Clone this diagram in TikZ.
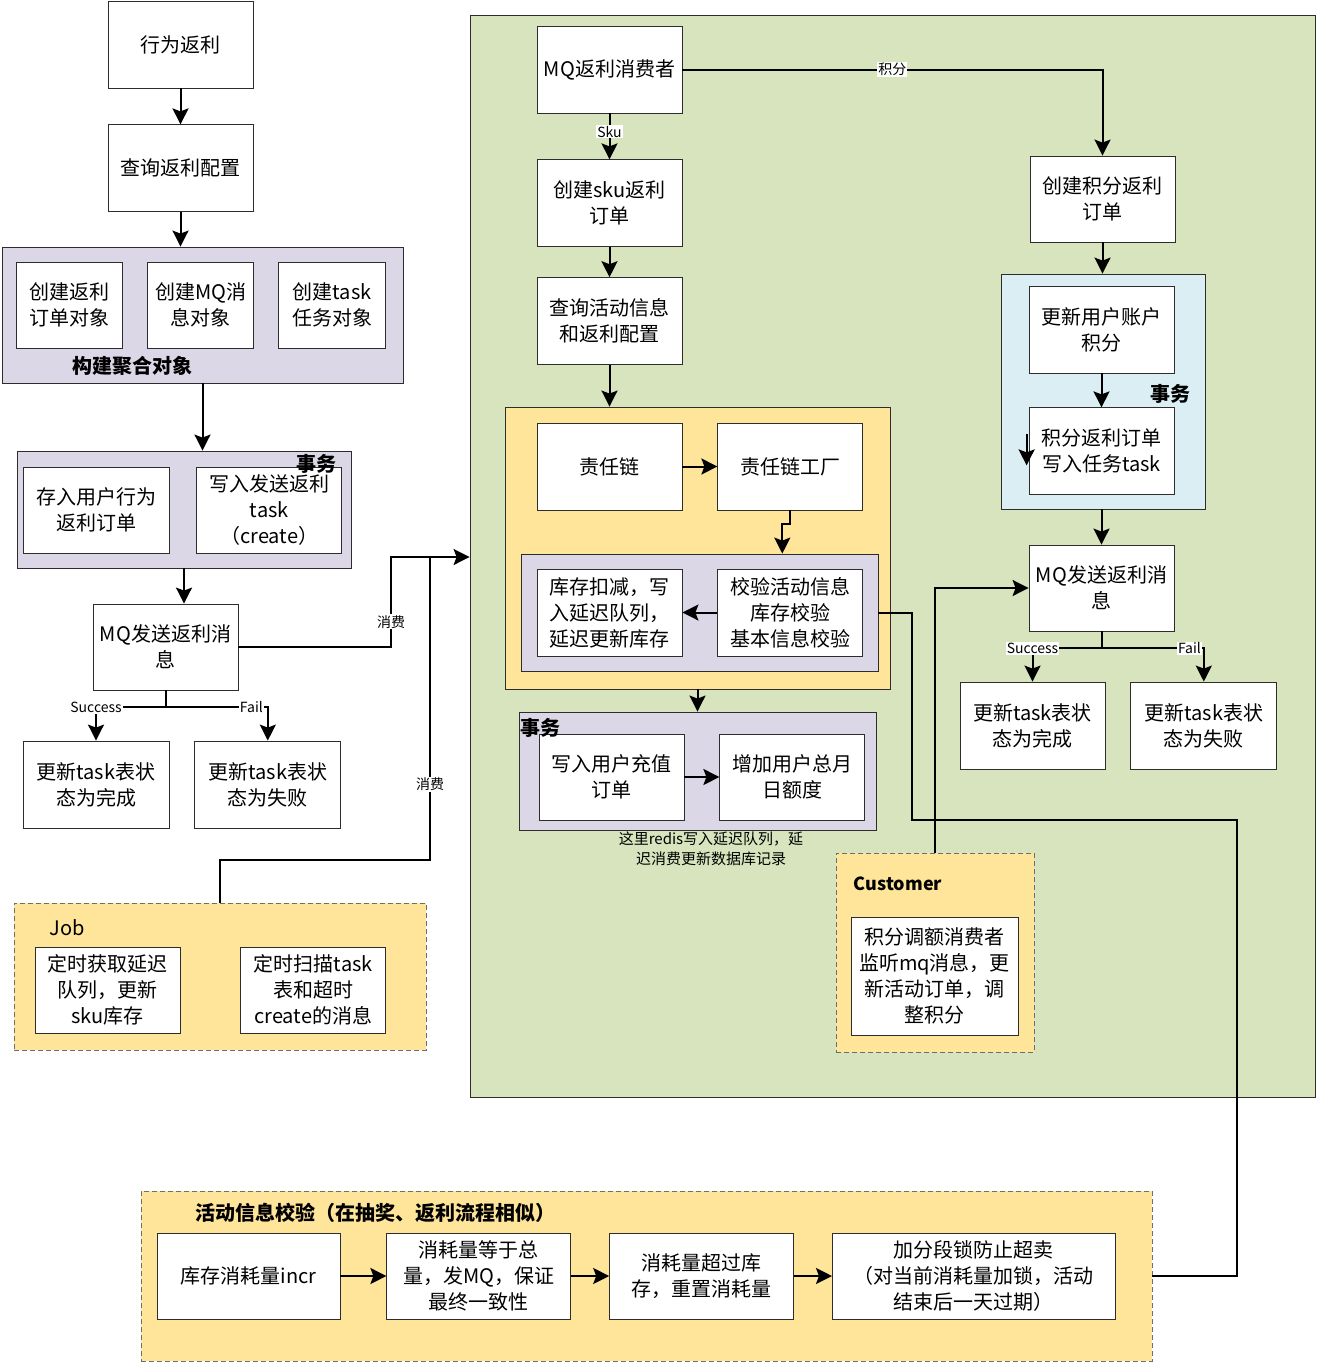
\documentclass[tikz,border=0pt]{standalone}
\usepackage{fontspec}
\setmainfont{Noto Sans CJK SC}
\usetikzlibrary{positioning,arrows.meta}

\definecolor{boxline}{RGB}{45,45,45}
\definecolor{dashline}{RGB}{110,110,110}
\definecolor{grpurple}{RGB}{220,215,230}
\definecolor{grgreen}{RGB}{215,228,190}
\definecolor{gryellow}{RGB}{255,229,153}
\definecolor{grblue}{RGB}{218,238,243}

\newcommand\bxfont{\fontsize{20}{26}\selectfont}
\newcommand\tgfont{\fontsize{14}{16}\selectfont}
\newcommand\hdfont{\fontsize{20}{24}\selectfont\bfseries}

\begin{document}
\begin{tikzpicture}[x=1pt,y=-1pt,
	box/.style={draw=boxline, fill=white, line width=0.8pt, align=center, inner sep=2pt,
		font=\bxfont, minimum width=145pt, minimum height=87pt},
	grp/.style={draw=boxline, line width=0.8pt, inner sep=0pt},
	dashgrp/.style={draw=dashline, line width=0.8pt, dash pattern=on 5pt off 3pt,
		fill=gryellow, inner sep=0pt},
	flow/.style={line width=2pt, -{Stealth[length=16pt,width=16pt,inset=3pt]}},
	link/.style={line width=2pt},
	tag/.style={fill=white, inner sep=1pt, font=\tgfont},
	head/.style={font=\hdfont, inner sep=0pt},
	]

	\useasboundingbox (0,0) rectangle (1317,1363);

	% groups
	\node[grp, fill=grgreen, minimum width=845pt, minimum height=1082pt] (green) at (892.5,556) {};
	\node[grp, fill=grpurple, minimum width=401pt, minimum height=136pt] (agg) at (202.5,315) {};
	\node[grp, fill=grpurple, minimum width=334pt, minimum height=117pt] (tx1) at (184,509.5) {};
	\node[dashgrp, minimum width=412pt, minimum height=147pt] (job) at (220,976.5) {};
	\node[grp, fill=gryellow, minimum width=385pt, minimum height=282pt] (chain) at (697.5,548) {};
	\node[grp, fill=grpurple, minimum width=357pt, minimum height=117pt] (chk) at (699.5,612.5) {};
	\node[grp, fill=grpurple, minimum width=357pt, minimum height=118pt] (tx2) at (697.5,771) {};
	\node[grp, fill=grblue, minimum width=204pt, minimum height=235pt] (tx3) at (1103,391.5) {};
	\node[dashgrp, minimum width=198pt, minimum height=199pt] (cust) at (935,952.5) {};
	\node[dashgrp, minimum width=1011pt, minimum height=170pt] (check) at (646.5,1276) {};

	% left column
	\node[box] (act) at (180.5,44.5) {行为返利};
	\node[box, below=36pt of act] (cfg) {查询返利配置};

	\node[box, minimum width=106pt, minimum height=86pt] (ord) at (69,305) {创建返利\\订单对象};
	\node[box, minimum width=106pt, minimum height=86pt, right=25pt of ord] (msg) {创建MQ消\\息对象};
	\node[box, minimum width=107pt, minimum height=86pt, right=24pt of msg] (tsk) {创建task\\任务对象};

	\node[box, minimum width=146pt, minimum height=86pt] (save) at (96,510) {存入用户行为\\返利订单};
	\node[box, minimum height=86pt, right=27pt of save] (wtask) {写入发送返利\\task\\（create）};

	\node[box, minimum height=86pt] (mq1) at (165.5,647) {MQ发送返利消\\息};
	\node[box, minimum width=146pt] (ok1) at (96,784.5) {更新task表状\\态为完成};
	\node[box, minimum width=146pt, right=25pt of ok1] (fail1) {更新task表状\\态为失败};

	\node[box, minimum height=86pt] (poll) at (107.5,990) {定时获取延迟\\队列，更新\\sku库存};
	\node[box, minimum height=86pt, right=60pt of poll] (scan) {定时扫描task\\表和超时\\create的消息};

	% green area
	\node[box] (cons) at (609.5,69.5) {MQ返利消费者};
	\node[box, below=46pt of cons] (sku) {创建sku返利\\订单};
	\node[box, below=30pt of sku] (qry) {查询活动信息\\和返利配置};

	\node[box] (chn) at (609.5,466.5) {责任链};
	\node[box, right=35pt of chn] (fac) {责任链工厂};
	\node[box] (deduct) at (609.5,612.5) {库存扣减，写\\入延迟队列，\\延迟更新库存};
	\node[box, right=35pt of deduct] (verify) {校验活动信息\\库存校验\\基本信息校验};

	\node[box, minimum height=86pt] (rchg) at (611.5,777) {写入用户充值\\订单};
	\node[box, minimum height=86pt, right=35pt of rchg] (quota) {增加用户总月\\日额度};
	\node[align=center, font=\fontsize{15}{20}\selectfont, inner sep=0pt] (note) at (711,849)
		{这里redis写入延迟队列，延\\迟消费更新数据库记录};

	\node[box, minimum height=86pt] (pts) at (1102.5,199) {创建积分返利\\订单};
	\node[box] (acct) at (1101.5,329.5) {更新用户账户\\积分};
	\node[box, below=34pt of acct] (ptask) {积分返利订单\\写入任务task};
	\node[box, minimum height=86pt] (mq2) at (1101.5,588) {MQ发送返利消\\息};
	\node[box] (ok2) at (1032.5,725.5) {更新task表状\\态为完成};
	\node[box, minimum width=146pt, right=25pt of ok2] (fail2) {更新task表状\\态为失败};

	\node[box, minimum width=167pt, minimum height=118pt] (adj) at (934.5,976)
		{积分调额消费者\\监听mq消息，更\\新活动订单，调\\整积分};

	% bottom
	\node[box, minimum width=183pt, minimum height=86pt] (incr) at (248.5,1276) {库存消耗量incr};
	\node[box, minimum width=184pt, minimum height=86pt, right=46pt of incr] (eq) {消耗量等于总\\量，发MQ，保证\\最终一致性};
	\node[box, minimum width=184pt, minimum height=86pt, right=38pt of eq] (over) {消耗量超过库\\存，重置消耗量};
	\node[box, minimum width=283pt, minimum height=86pt, right=38pt of over] (lock) {加分段锁防止超卖\\（对当前消耗量加锁，活动\\结束后一天过期）};

	% group labels
	\node[head] (agglbl) at (132,366) {构建聚合对象};
	\node[head] (tx1lbl) at (316,464) {事务};
	\node[font=\fontsize{20}{24}\selectfont, inner sep=0pt] (joblbl) at (67,928) {Job};
	\node[head] (tx2lbl) at (540,728) {事务};
	\node[head] (tx3lbl) at (1170,394) {事务};
	\node[font=\fontsize{18}{22}\selectfont\bfseries, inner sep=0pt] (custlbl) at (898,884) {Customer};
	\node[head] (checklbl) at (375,1213) {活动信息校验（在抽奖、返利流程相似）};

	% connectors
	\coordinate (hub) at (391,557);
	\coordinate (jb) at (430,860);
	\coordinate (jt) at (430,557);
	\coordinate (rt1) at (912,820);
	\coordinate (rt2) at (1237,1276);

	\draw[flow] (act) -- (cfg);
	\draw[flow] (cfg.south) -- (cfg.south |- agg.north);
	\draw[flow] (agg.south) -- (agg.south |- tx1.north);
	\draw[flow] (tx1.south) -- (tx1.south |- mq1.north);
	\draw[flow] (mq1.south) -- ++(0,17) -| node[tag, pos=0.5] {Success} (ok1.north);
	\draw[flow] (mq1.south) -- ++(0,17) -| node[tag, pos=0.42] {Fail} (fail1.north);
	\draw[flow] (mq1.east) -| node[tag, pos=0.64] {消费} (hub) -- (hub -| green.west);
	\draw[link] (job.north) |- (jb) -- node[tag, pos=0.25] {消费} (jt);

	\draw[flow] (cons) -- node[tag, pos=0.4] {Sku} (sku);
	\draw[flow] (sku) -- (qry);
	\draw[flow] (qry.south) -- (qry.south |- chain.north);
	\draw[flow] (chn) -- (fac);
	\draw[flow] (fac.south) -- ++(0,14) -| ([xshift=-8pt]fac.south |- chk.north);
	\draw[flow] (verify) -- (deduct);
	\draw[flow] (chain.south) -- (tx2.north);
	\draw[flow] (rchg) -- (quota);

	\draw[flow] (cons.east) -| node[tag, pos=0.25] {积分} (pts.north);
	\draw[flow] (pts.south) -- (pts.south |- tx3.north);
	\draw[flow] (acct) -- (ptask);
	\draw[flow] ([shift={(-2,27)}]ptask.north west) -- ++(0,31);
	\draw[flow] (tx3.south -| mq2.north) -- (mq2.north);
	\draw[flow] (mq2.south) -- ++(0,17) -| node[tag, pos=0.5] {Success} (ok2.north);
	\draw[flow] (mq2.south) -- ++(0,17) -| node[tag, pos=0.43] {Fail} (fail2.north);
	\draw[flow] (cust.north) |- (mq2.west);
	\draw[link] (chk.east) -| (rt1) -| (rt2) -- (check.east);

	\draw[flow] (incr) -- (eq);
	\draw[flow] (eq) -- (over);
	\draw[flow] (over) -- (lock);

\end{tikzpicture}
\end{document}
